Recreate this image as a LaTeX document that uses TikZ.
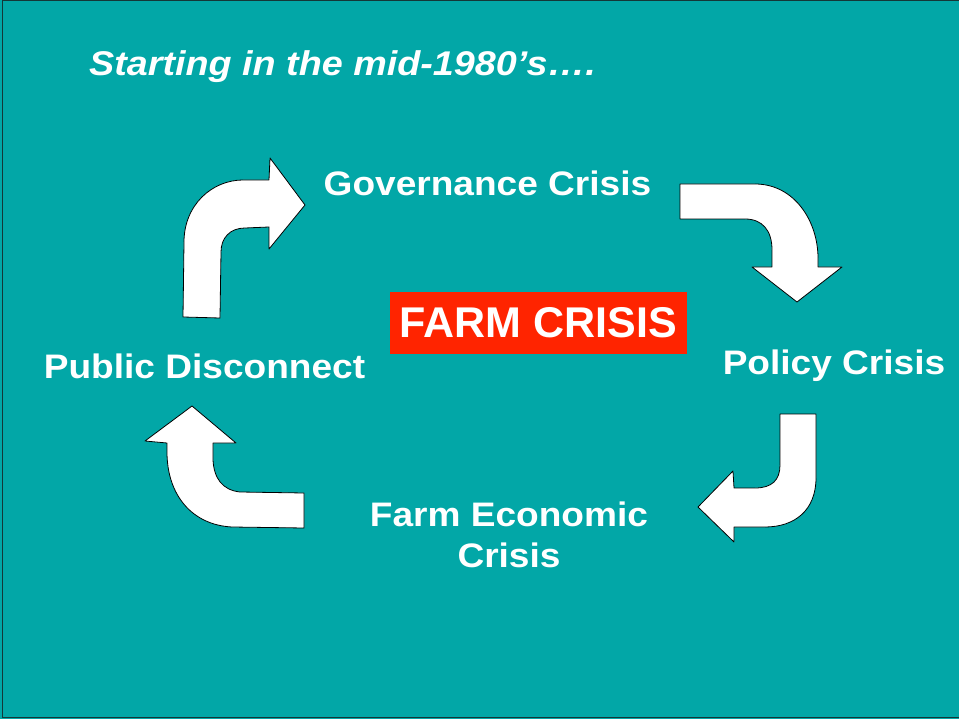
\documentclass[tikz,border=0pt]{standalone}
\usepackage{fontspec}
\setmainfont{Liberation Sans}
\newfontfamily\lblfont[FakeStretch=1.09]{Liberation Sans}
\newfontfamily\ttlfont[FakeStretch=1.10]{Liberation Sans}
\definecolor{bgteal}{RGB}{2,167,167}
\definecolor{crisisred}{RGB}{255,36,0}
\definecolor{framecol}{RGB}{20,55,55}
\begin{document}
\begin{tikzpicture}[x=1pt,y=-1pt,
  lbl/.style={text=white,font=\lblfont\bfseries\fontsize{34}{41}\selectfont,inner sep=0pt,align=center},
  bentarrow/.style={draw=black,fill=white,line width=0.8pt,line join=round}]
\useasboundingbox (0,0) rectangle (959,719);
\fill[bgteal] (0,0) rectangle (959,719);
\draw[framecol,line width=1.3pt] (2.5,0.6) rectangle (962,717.4);

% title
\node[text=white,font=\ttlfont\bfseries\itshape\fontsize{34.3}{41}\selectfont,inner sep=0pt,anchor=base west]
  (title) at (89,76) {Starting in the mid-1980’s….};

% labels
\node[lbl,anchor=base] (gov) at (487.5,196) {Governance Crisis};
\node[lbl,anchor=base] (pol) at (834,374) {Policy Crisis};
\node[lbl,anchor=base] (pub) at (204.5,378) {Public Disconnect};
\node[lbl,anchor=north] (econ) at (509,501.5) {Farm Economic\\Crisis};

% centre
\node[fill=crisisred,text=white,font=\bfseries\fontsize{43}{50}\selectfont,
  minimum width=297pt,minimum height=62pt,inner sep=0pt] (farm) at (538.5,323) {FARM CRISIS};

% arrow: public -> governance
\draw[bentarrow] (183,317) -- (184,242) .. controls (184,205) and (212,180) .. (243,180)
  -- (269,180) -- (270,158) -- (305,205) -- (269,249) -- (269,227) -- (245,228)
  .. controls (230,228) and (221,238) .. (221,252) -- (220,318) -- cycle;

% arrow: governance -> policy
\draw[bentarrow] (680,184) -- (755,184) .. controls (795,184) and (818,222) .. (818,258)
  -- (818,267) -- (842,267) -- (797,302) -- (752,267) -- (772,267) -- (772,250)
  .. controls (772,230) and (762,219) .. (745,219) -- (680,219) -- cycle;

% arrow: policy -> economic
\draw[bentarrow] (780,414) -- (816,414) -- (816,478) .. controls (816,510) and (795,527) .. (765,527)
  -- (734,527) -- (734,542) -- (698,507) -- (733,471) -- (734,488) -- (755,488)
  .. controls (772,488) and (780,480) .. (780,465) -- cycle;

% arrow: economic -> public
\draw[bentarrow] (304,493) -- (304,528) -- (232,527) .. controls (192,525) and (167,495) .. (167,452)
  -- (167,443) -- (145,441) -- (192,406) -- (236,443) -- (213,443) -- (213,460)
  .. controls (214,478) and (222,490) .. (240,492) -- cycle;
\end{tikzpicture}
\end{document}
